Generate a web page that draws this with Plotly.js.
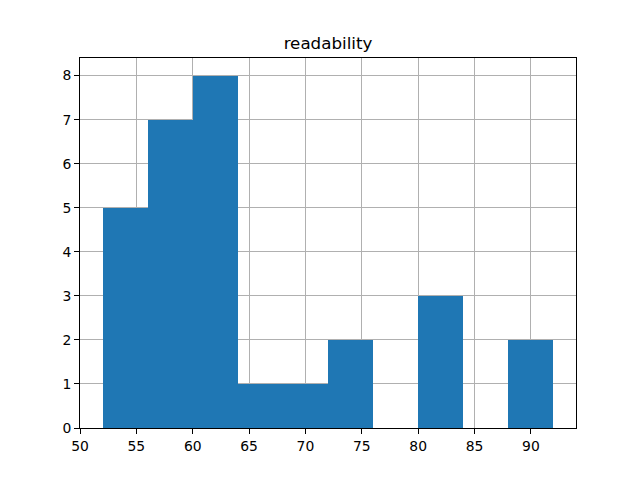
<!DOCTYPE html>
<html>
<head>
<meta charset="utf-8">
<script src="https://cdn.plot.ly/plotly-3.0.1.min.js"></script>
<style>html,body{margin:0;padding:0;background:#fff;}#chart{width:640px;height:480px;}</style>
</head>
<body>
<div id="chart"></div>
<script>
const binEdges = [52, 56, 60, 64, 68, 72, 76, 80, 84, 88, 92];
const counts = [5, 7, 8, 1, 1, 2, 0, 3, 0, 2];
const xTicks = [50, 55, 60, 65, 70, 75, 80, 85, 90];
const yTicks = [0, 1, 2, 3, 4, 5, 6, 7, 8];
const titleText = "readability";

const centers = counts.map((_, i) => (binEdges[i] + binEdges[i + 1]) / 2);
const widths = counts.map((_, i) => binEdges[i + 1] - binEdges[i]);

const axisCommon = {
  showline: true, mirror: true, linecolor: '#000', linewidth: 1,
  ticks: 'outside', ticklen: 5, tickwidth: 1, tickcolor: '#000',
  showgrid: true, gridcolor: '#b0b0b0', gridwidth: 1,
  zeroline: false, layer: 'above traces',
  tickfont: {family: 'DejaVu Sans', size: 13.9, color: '#000'}
};

Plotly.newPlot('chart', [{
  type: 'bar', x: centers, y: counts, width: widths,
  marker: {color: '#1f77b4', line: {width: 0}},
  hoverinfo: 'none'
}], {
  width: 640, height: 480,
  margin: {l: 80, r: 64, t: 58, b: 52},
  paper_bgcolor: '#fff', plot_bgcolor: '#fff',
  showlegend: false,
  bargap: 0,
  title: {text: titleText, font: {family: 'DejaVu Sans', size: 16.7, color: '#000'},
          xref: 'paper', x: 0.5, xanchor: 'center', yref: 'container', y: 1 - 43/480, yanchor: 'middle'},
  xaxis: Object.assign({}, axisCommon, {range: [50, 94], tickmode: 'array', tickvals: xTicks, ticktext: xTicks.map(String)}),
  yaxis: Object.assign({}, axisCommon, {range: [0, 8.4], tickmode: 'array', tickvals: yTicks, ticktext: yTicks.map(String)})
}, {displayModeBar: false, staticPlot: true});
</script>
</body>
</html>
